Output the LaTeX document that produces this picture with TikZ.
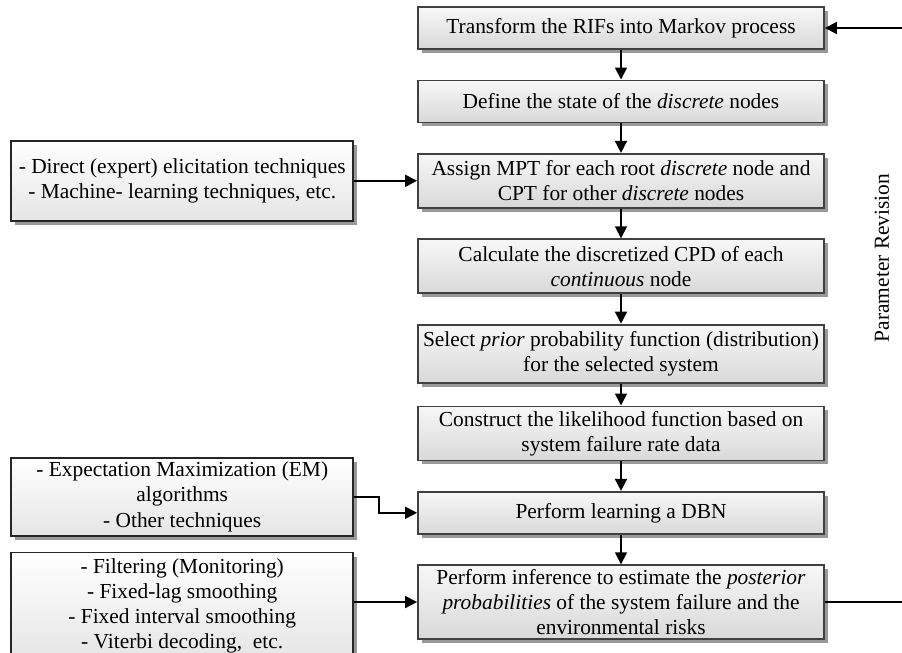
\documentclass[tikz,border=0pt]{standalone}
\usepackage{fontspec}
\setmainfont{Liberation Serif}
\usetikzlibrary{arrows.meta, positioning, shadows}

\begin{document}
\begin{tikzpicture}[
      node distance=14.8pt and 31.5pt,
      font=\fontsize{10.7pt}{12.6pt}\selectfont,
      stepbox/.style={rectangle, draw=black!75, line width=0.9pt, minimum width=203pt, minimum height=21pt, inner xsep=2pt, inner ysep=2pt, align=center, top color=black!3, bottom color=black!15, drop shadow={shadow xshift=2pt, shadow yshift=-2pt, fill=black!40, opacity=1}},
      toolbox/.style={rectangle, draw=black!85, line width=0.9pt, minimum width=171pt, inner xsep=2pt, inner ysep=2pt, align=center, top color=white, bottom color=black!10, drop shadow={shadow xshift=2pt, shadow yshift=-2pt, fill=black!40, opacity=1}},
      arrow/.style={-{Triangle[length=6pt, width=6pt]}, line width=0.85pt}
    ]
    \useasboundingbox (0,0) rectangle (451pt,-326.5pt);

    \node[stepbox] (p1) at (310.5pt,-14pt) {Transform the RIFs into Markov process};
    \node[stepbox, below=of p1] (p2) {Define the state of the \emph{discrete} nodes};
    \node[stepbox, below=of p2, minimum height=27pt] (p3) {Assign MPT for each root \emph{discrete} node and\\CPT for other \emph{discrete} nodes};
    \node[stepbox, below=of p3, minimum height=27pt] (p4) {Calculate the discretized CPD of each\\\emph{continuous} node};
    \node[stepbox, below=of p4, minimum height=29pt] (p5) {Select \emph{prior} probability function (distribution)\\for the selected system};
    \node[stepbox, below=11pt of p5, minimum height=27pt] (p6) {Construct the likelihood function based on\\system failure rate data};
    \node[stepbox, below=of p6] (p7) {Perform learning a DBN};
    \node[stepbox, below=of p7] (p8) {Perform inference to estimate the \emph{posterior}\\\emph{probabilities} of the system failure and the\\environmental risks};

    \node[toolbox, left=of p3, minimum height=40pt] (elicit) {- Direct (expert) elicitation techniques\\- Machine- learning techniques, etc.};
    \node[toolbox, left=of p7, yshift=8pt, minimum height=37pt] (em) {- Expectation Maximization (EM)\\algorithms\\- Other techniques};
    \node[toolbox, left=of p8, yshift=-2pt, minimum height=50pt, inner ysep=3pt] (filter) {- Filtering (Monitoring)\\- Fixed-lag smoothing\\- Fixed interval smoothing\\- Viterbi decoding, \ etc.};

    \node[rotate=90] (rev) at (441pt,-129pt) {Parameter Revision};

    \draw[arrow] (p1) -- (p2);
    \draw[arrow] (p2) -- (p3);
    \draw[arrow] (p3) -- (p4);
    \draw[arrow] (p4) -- (p5);
    \draw[arrow] (p5) -- (p6);
    \draw[arrow] (p6) -- (p7);
    \draw[arrow] (p7) -- (p8);

    \draw[arrow] (elicit.east) -- (p3.west);
    \draw[arrow] (em.east) -- ++(12.5pt,0) |- (p7.west);
    \draw[arrow] (filter.east |- p8.west) -- (p8.west);

    % revision loop runs past the right edge
    \draw[arrow] (p8.east) -- ++(50pt,0) |- (p1.east);
  \end{tikzpicture}
\end{document}
